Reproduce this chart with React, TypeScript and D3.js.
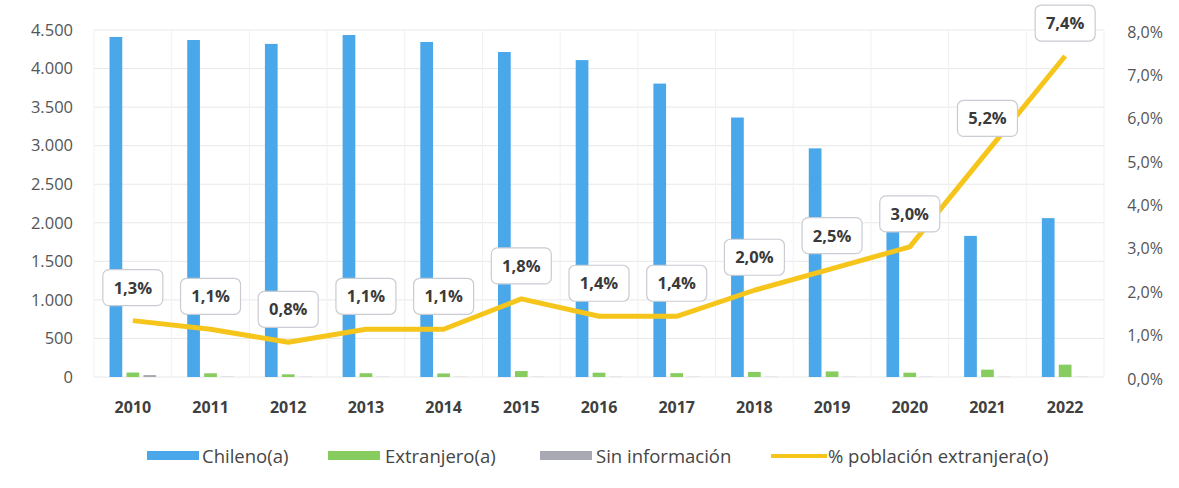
import { scaleBand, scaleLinear, line as d3_line, formatLocale, range } from "d3";

const years = ["2010", "2011", "2012", "2013", "2014", "2015", "2016", "2017", "2018", "2019", "2020", "2021", "2022"];
const chileno = [4410, 4370, 4320, 4435, 4345, 4215, 4110, 3805, 3365, 2965, 1900, 1830, 2060];
const extranjero = [58, 48, 35, 49, 46, 77, 56, 50, 66, 72, 56, 95, 160];
const sinInfo = [25, 3, 2, 2, 2, 2, 2, 2, 2, 2, 2, 2, 2];
const pctExtranjera = [1.3, 1.1, 0.8, 1.1, 1.1, 1.8, 1.4, 1.4, 2.0, 2.5, 3.0, 5.2, 7.4];
const leftTicks = [0, 500, 1000, 1500, 2000, 2500, 3000, 3500, 4000, 4500];
const rightTicks = [0, 1, 2, 3, 4, 5, 6, 7, 8];
const seriesNames = ["Chileno(a)", "Extranjero(a)", "Sin información", "% población extranjera(o)"];

const colors = { chileno: "#4aa8ea", extranjero: "#86cc5e", sin: "#a9a9b4", pct: "#f6c51b" };

const es = formatLocale({ decimal: ",", thousands: ".", grouping: [3], currency: ["", ""] });
const fmtInt = es.format(",d");
const fmtPct = (v: number) => es.format(".1f")(v) + "%";

if (typeof document !== "undefined") document.body.style.margin = "0";

export default function App() {
  const W = 1179;
  const H = 488;
  const top = 30;
  const bottom = 377;
  const left = 94;
  const right = 1104;

  const x = scaleBand<string>().domain(years).range([left, right]).paddingInner(0.4).paddingOuter(0.2);
  const step = x.step();
  const xs = scaleBand<string>().domain(["c", "e", "s"]).range([0, x.bandwidth()]).paddingInner(0.25);
  const yL = scaleLinear().domain([0, 4500]).range([bottom, top]);
  const yR = scaleLinear().domain([0, 8]).range([bottom, top]);

  const cx = (i: number) => (x(years[i]) ?? 0) + x.bandwidth() / 2;
  const pts = pctExtranjera.map((v, i) => ({ x: cx(i), y: yR(v), v }));
  const path = d3_line<{ x: number; y: number }>().x((d) => d.x).y((d) => d.y)(pts) ?? "";

  const font = "'Open Sans', 'Noto Sans', sans-serif";
  const legendItems = [
    { name: seriesNames[0], color: colors.chileno, sx: 147, tx: 202, kind: "rect" },
    { name: seriesNames[1], color: colors.extranjero, sx: 328, tx: 385, kind: "rect" },
    { name: seriesNames[2], color: colors.sin, sx: 540, tx: 596, kind: "rect" },
    { name: seriesNames[3], color: colors.pct, sx: 771, tx: 828, kind: "line" },
  ];

  return (
    <svg width={W} height={H} style={{ display: "block", background: "#fff" }} fontFamily={font}>
      {/* grid */}
      {leftTicks.map((t) => (
        <line key={"g" + t} x1={left} x2={right} y1={yL(t)} y2={yL(t)} stroke="#e8e8e8" strokeWidth={1} />
      ))}
      {range(years.length + 1).map((i) => (
        <line key={"v" + i} x1={left + i * step} x2={left + i * step} y1={top} y2={bottom} stroke="#f1f1f1" strokeWidth={1} />
      ))}

      {/* bars */}
      {years.map((yr, i) => {
        const x0 = x(yr) ?? 0;
        return (
          <g key={yr}>
            <rect x={x0 + (xs("c") ?? 0)} y={yL(chileno[i])} width={xs.bandwidth()} height={bottom - yL(chileno[i])} fill={colors.chileno} />
            <rect x={x0 + (xs("e") ?? 0)} y={yL(extranjero[i])} width={xs.bandwidth()} height={bottom - yL(extranjero[i])} fill={colors.extranjero} />
            <rect x={x0 + (xs("s") ?? 0)} y={yL(sinInfo[i])} width={xs.bandwidth()} height={bottom - yL(sinInfo[i])} fill={colors.sin} />
          </g>
        );
      })}

      {/* line */}
      <path d={path} fill="none" stroke={colors.pct} strokeWidth={5} strokeLinejoin="round" />

      {/* data labels */}
      {pts.map((p, i) => (
        <g key={"l" + i} transform={`translate(${p.x},${p.y - 33})`}>
          <rect x={-30} y={-18} width={60} height={36} rx={6} fill="#fff" stroke="#c9ccd3" strokeWidth={1.2} />
          <text textAnchor="middle" dy="0.36em" fontSize={16.5} fontWeight={700} fill="#3a3a3a">
            {fmtPct(p.v)}
          </text>
        </g>
      ))}

      {/* left axis */}
      {leftTicks.map((t) => (
        <text key={"lt" + t} x={73} y={yL(t)} dy="0.35em" textAnchor="end" fontSize={16.5} fill="#555">
          {fmtInt(t)}
        </text>
      ))}

      {/* right axis */}
      {rightTicks.map((t) => (
        <text key={"rt" + t} x={1163} y={yR(t) + 2} dy="0.35em" textAnchor="end" fontSize={16} fill="#555">
          {fmtPct(t)}
        </text>
      ))}

      {/* x axis labels */}
      {years.map((yr, i) => (
        <text key={"x" + yr} x={cx(i)} y={407} dy="0.35em" textAnchor="middle" fontSize={16} fontWeight={700} fill="#404040">
          {yr}
        </text>
      ))}

      {/* legend */}
      {legendItems.map((it) => (
        <g key={it.name}>
          {it.kind === "rect" ? (
            <rect x={it.sx} y={451} width={52} height={9} fill={it.color} />
          ) : (
            <line x1={it.sx} x2={it.sx + 56} y1={456} y2={456} stroke={it.color} strokeWidth={4} />
          )}
          <text x={it.tx} y={457} dy="0.35em" fontSize={18.5} fill="#454545">
            {it.name}
          </text>
        </g>
      ))}
    </svg>
  );
}
